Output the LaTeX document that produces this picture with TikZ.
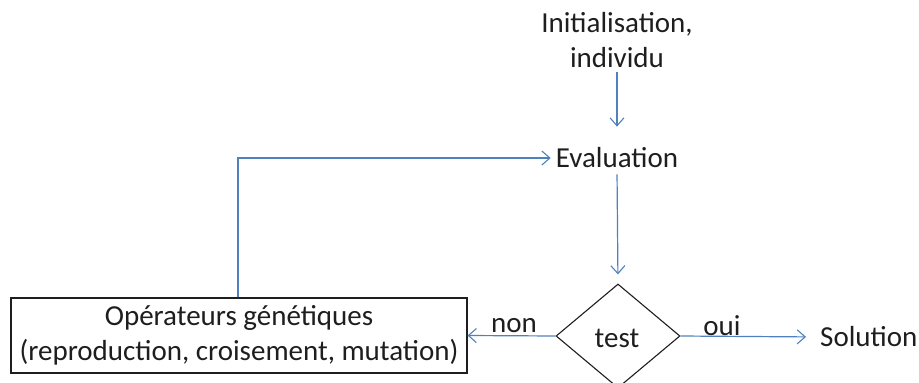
\documentclass[tikz,border=0pt]{standalone}
\usepackage{fontspec}
\setmainfont{Carlito}
\usetikzlibrary{shapes.geometric,arrows.meta}
\definecolor{flow}{RGB}{79,129,189}
\definecolor{ink}{RGB}{30,30,30}
\begin{document}
\begin{tikzpicture}[x=1pt,y=-1pt,
  txt/.style={font=\fontsize{29}{35}\selectfont, text=ink, inner sep=2pt, align=center},
  arr/.style={draw=flow, line width=1.2pt, -{Straight Barb[length=8pt,width=14pt,line width=1.1pt]}},
  boxshape/.style={draw=ink, line width=1.1pt, rectangle, minimum width=456pt, minimum height=75pt, inner sep=0pt},
  dia/.style={draw=ink, line width=1.1pt, diamond, minimum width=124pt, minimum height=104pt, inner sep=0pt}]
\useasboundingbox (0,0) rectangle (919,383);
\node[txt] (init) at (617,40) {Initialisation,\\individu};
\node[txt] (eval) at (617,158) {Evaluation};
\node[dia] (test) at (618,336) {};
\node[txt] (testlbl) at (617,338) {test};
\node[boxshape, txt, inner sep=0pt] (ops) at (239,335.5) {Opérateurs génétiques\\(reproduction, croisement, mutation)};
\node[txt, anchor=west] (sol) at (818,337) {Solution};
\node[txt] (non) at (514,326) {non};
\node[txt] (oui) at (722,326) {oui};
\draw[arr, shorten <=2pt, shorten >=19pt] (init.south) -- (init.south |- eval.north);
\draw[arr, shorten >=3pt] (ops.north -| 238,0) |- (eval.west);
\draw[arr, shorten <=4pt, shorten >=9pt] (eval.south) -- (test.north);
\draw[arr] (test.west) -- (ops.east);
\draw[arr, shorten >=12pt] (test.east) -- (sol.west);
\end{tikzpicture}
\end{document}
